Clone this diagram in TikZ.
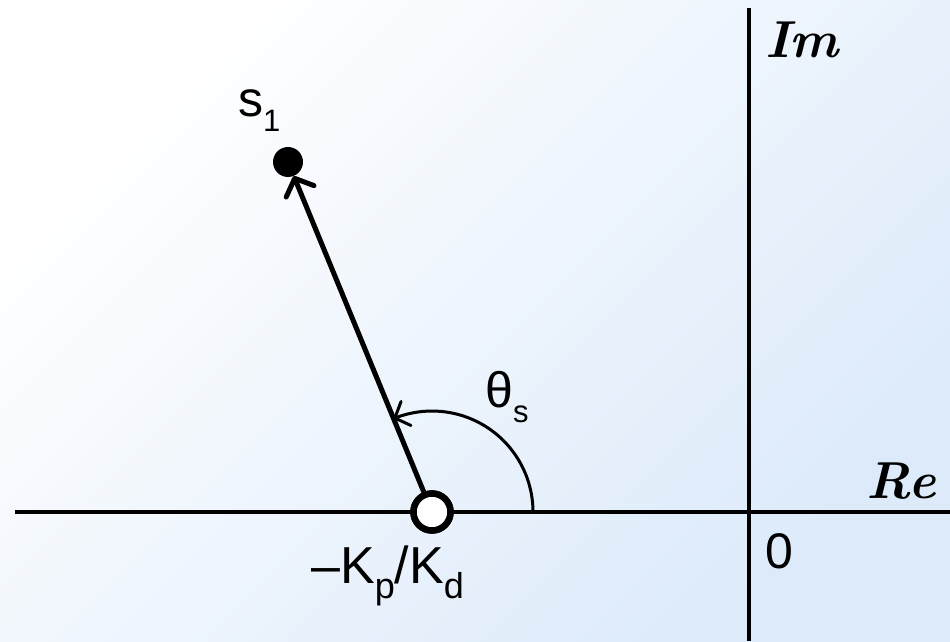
\documentclass[tikz,border=0pt]{standalone}
\usepackage{fontspec}
\newfontfamily\arialish{Liberation Sans}
\usetikzlibrary{arrows.meta,calc,bending}
\definecolor{bgblue}{RGB}{220,234,250}
\newcommand\lowsub[1]{\raisebox{-15pt}{\fontsize{31}{31}\selectfont #1}}
\newcommand\lowsubk[1]{\raisebox{-15pt}{\fontsize{36}{36}\selectfont #1}}
\begin{document}
\begin{tikzpicture}[x=1pt,y=1pt,
  axis/.style={line width=4pt},
  zero/.style={circle,draw,fill=white,line width=6.5pt,minimum size=37pt,inner sep=0pt},
  pole/.style={circle,fill=black,minimum size=30pt,inner sep=0pt},
  vec/.style={line width=5pt,-{Straight Barb[length=14pt,width=30pt,round]}},
  ang/.style={line width=3pt,-{Straight Barb[length=12pt,width=26pt,round]}},
  lbl/.style={inner sep=0pt,anchor=base west,font=\arialish\fontsize{50}{50}\selectfont},
  axlbl/.style={inner sep=0pt,font=\bfseries\itshape\fontsize{52}{52}\selectfont}]
\useasboundingbox (0,0) rectangle (950,641);
\shade[top color=white, bottom color=bgblue, shading angle=45] (0,0) rectangle (950,641);
% axes
\coordinate (xl) at (15,129);
\coordinate (xr) at (950,129);
\coordinate (yt) at (749,633);
\coordinate (yb) at (749,0);
\draw[axis] (xl) -- (xr);
\draw[axis] (yb) -- (yt);
% zero and pole
\node[zero] (Z) at (432,129) {};
\node[pole] (P) at (288,479) {};
\draw[vec] (Z) -- (P);
\coordinate (arcstart) at ($(Z.center)+(101,0)$);
\draw[ang] (arcstart) arc[start angle=0,end angle=112.4,radius=101];
\node[zero] at (Z) {};
% labels
\node[lbl] (s1) at (238,524) {s\lowsub{1}};
\node[lbl] (th) at (485,234) {θ\lowsub{s}};
\node[lbl] (orig) at (765,73) {0};
\node[lbl,font=\arialish\fontsize{52}{52}\selectfont] (kk) at (311,58) {–K\lowsubk{p}/K\lowsubk{d}};
\node[axlbl] (im) at (802,601) {Im};
\node[axlbl] (re) at (901,160) {Re};
\end{tikzpicture}
\end{document}
